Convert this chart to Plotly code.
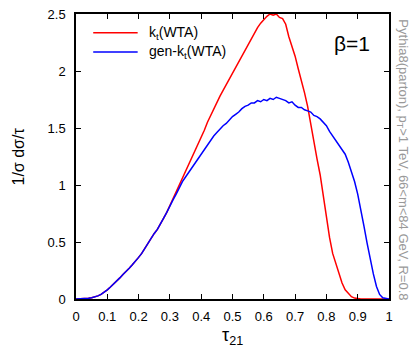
import plotly.graph_objects as go

tau = [round(i * 0.01, 2) for i in range(101)]

kt_wta = [0, 0, 0.001, 0.003, 0.006, 0.011, 0.018, 0.027, 0.04, 0.058,
          0.08, 0.105, 0.13, 0.155, 0.185, 0.215, 0.24, 0.27, 0.30, 0.33,
          0.365, 0.40, 0.445, 0.49, 0.53, 0.575, 0.61, 0.655, 0.71, 0.76,
          0.82, 0.87, 0.93, 0.985, 1.05, 1.11, 1.17, 1.24, 1.29, 1.35,
          1.42, 1.48, 1.55, 1.61, 1.67, 1.72, 1.78, 1.83, 1.88, 1.94,
          1.99, 2.04, 2.09, 2.14, 2.19, 2.24, 2.29, 2.34, 2.38, 2.42,
          2.45, 2.48, 2.50, 2.49, 2.50, 2.47, 2.46, 2.41, 2.30, 2.22,
          2.13, 2.02, 1.92, 1.81, 1.69, 1.53, 1.37, 1.23, 1.09, 0.90,
          0.72, 0.54, 0.40, 0.31, 0.22, 0.14, 0.08, 0.045, 0.02, 0.008,
          0.003, 0.001, 0, 0, 0, 0, 0, 0, 0, 0, 0]

genkt_wta = [0, 0, 0.001, 0.003, 0.006, 0.011, 0.018, 0.027, 0.04, 0.058,
             0.08, 0.105, 0.13, 0.155, 0.185, 0.215, 0.24, 0.27, 0.30, 0.33,
             0.365, 0.40, 0.445, 0.49, 0.53, 0.575, 0.61, 0.655, 0.71, 0.76,
             0.82, 0.87, 0.92, 0.98, 1.03, 1.07, 1.11, 1.16, 1.20, 1.24,
             1.28, 1.32, 1.36, 1.40, 1.43, 1.46, 1.49, 1.52, 1.54, 1.57,
             1.60, 1.62, 1.64, 1.67, 1.69, 1.70, 1.72, 1.72, 1.74, 1.73,
             1.75, 1.74, 1.76, 1.75, 1.77, 1.76, 1.75, 1.74, 1.72, 1.73,
             1.70, 1.68, 1.68, 1.66, 1.65, 1.64, 1.61, 1.60, 1.58, 1.55,
             1.52, 1.47, 1.43, 1.39, 1.36, 1.32, 1.27, 1.20, 1.12, 1.03,
             0.92, 0.79, 0.64, 0.49, 0.35, 0.22, 0.11, 0.04, 0.01, 0.002, 0]

series_names = ["k<sub>t</sub>(WTA)", "gen-k<sub>t</sub>(WTA)"]
series_colors = ["#ff0000", "#0000ff"]

x_ticks = [0, 0.1, 0.2, 0.3, 0.4, 0.5, 0.6, 0.7, 0.8, 0.9, 1]
x_tick_labels = ["0", "0.1", "0.2", "0.3", "0.4", "0.5", "0.6", "0.7", "0.8", "0.9", "1"]
y_ticks = [0, 0.5, 1, 1.5, 2, 2.5]
y_tick_labels = ["0", "0.5", "1", "1.5", "2", "2.5"]

font = "Liberation Sans, Arial, sans-serif"

fig = go.Figure()
for ys, nm, col in zip([kt_wta, genkt_wta], series_names, series_colors):
    fig.add_trace(go.Scatter(x=tau, y=ys, mode="lines", name=nm,
                             line=dict(color=col, width=1.5), showlegend=False))

axis_common = dict(showgrid=False, zeroline=False, showline=True, linecolor="black",
                   linewidth=1.5, mirror="ticks", ticks="inside", ticklen=5,
                   tickwidth=1, tickcolor="black", automargin=False,
                   tickfont=dict(family=font, size=13, color="black"))

fig.update_xaxes(range=[0, 1], tickvals=x_ticks, ticktext=x_tick_labels,
                 ticklabelstandoff=5, **axis_common)
fig.update_yaxes(range=[0, 2.5], tickvals=y_ticks, ticktext=y_tick_labels,
                 ticklabelstandoff=6, **axis_common)

# axis titles
fig.add_annotation(text="τ<sub>21</sub>", xref="paper", yref="paper", x=0.5, y=0,
                   yshift=-37, xanchor="center", yanchor="middle", showarrow=False,
                   font=dict(family=font, size=18, color="black"))
fig.add_annotation(text="1/σ dσ/τ", xref="paper", yref="paper", x=0, y=0.5,
                   xshift=-58, xanchor="center", yanchor="middle", textangle=-90,
                   showarrow=False, font=dict(family=font, size=16, color="black"))

# legend drawn in the plot's top-left corner
leg_y = [0.934, 0.867]
for yy, nm, col in zip(leg_y, series_names, series_colors):
    fig.add_shape(type="line", xref="paper", yref="paper", x0=0.055, x1=0.197,
                  y0=yy, y1=yy, line=dict(color=col, width=1.5))
    fig.add_annotation(text=nm, xref="paper", yref="paper", x=0.226, y=yy,
                       xanchor="left", yanchor="middle", showarrow=False,
                       font=dict(family=font, size=14, color="black"))

fig.add_annotation(text="β=1", xref="paper", yref="paper", x=0.881, y=0.898,
                   xanchor="center", yanchor="middle",
                   showarrow=False, font=dict(family=font, size=21, color="black"))
fig.add_annotation(text="Pythia8(parton), p<sub>T</sub>>1 TeV, 66<m<84 GeV, R=0.8",
                   xref="paper", yref="paper", x=1, y=0.49, xshift=14, xanchor="center",
                   yanchor="middle", textangle=90,
                   showarrow=False, font=dict(family=font, size=13, color="#999999"))

fig.update_layout(
    width=413, height=347,
    margin=dict(l=76, r=24, t=14, b=48),
    paper_bgcolor="white", plot_bgcolor="white",
    showlegend=False,
)

fig.write_html("out.html")
